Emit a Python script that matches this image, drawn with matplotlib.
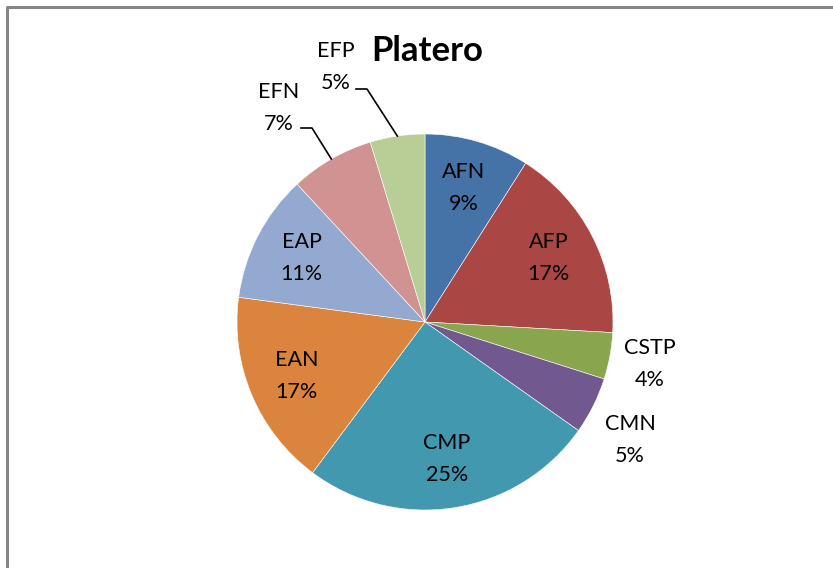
import numpy as np
import matplotlib.pyplot as plt

plt.rcParams['font.family'] = ['Lato', 'DejaVu Sans']

# slice shares, clockwise from 12 o'clock
cats = ['AFN', 'AFP', 'CSTP', 'CMN', 'CMP', 'EAN', 'EAP', 'EFN', 'EFP']
vals = [9.0, 16.9, 4.0, 4.9, 25.4, 16.9, 11.0, 7.2, 4.7]
cols = ['#4572A7', '#AA4643', '#89A54E', '#71588F', '#4198AF',
        '#DB843D', '#93A9CF', '#D19392', '#B9CD96']

W, H = 833, 568
fig = plt.figure(figsize=(W / 100, H / 100), dpi=100)
ax = fig.add_axes([0, 0, 1, 1])
ax.set_aspect('equal')

cx, cy, R = 425, 246, 188
wedges, _ = ax.pie(vals, colors=cols, startangle=90, counterclock=False,
                   center=(cx, cy), radius=R, frame=True,
                   wedgeprops=dict(edgecolor='white', linewidth=0.4))
ax.set_xlim(0, W)
ax.set_ylim(0, H)
ax.axis('off')

# chart border (grey, cut off at right/bottom like the source)
ax.plot([7.5, 7.5, W + 5], [-5, H - 6.5, H - 6.5], color='#868686', lw=2.2,
        clip_on=False)

ax.text(427, H - 51, 'Platero', ha='center', va='center', fontsize=25,
        fontweight='bold')

tot = sum(vals)
pct = [f'{round(v / tot * 100)}%' for v in vals]

# outside labels: positions in pixels from the picture
outside = {'CSTP': (650, 364), 'CMN': (630, 440),
           'EFN': (279, 108), 'EFP': (336, 67)}
# leader line elbows for the top labels
leaders = {'EFN': (301, 312, 128), 'EFP': (356, 367, 89)}

cum = 0
for c, v, p in zip(cats, vals, pct):
    mid = 90 - (cum + v / 2) / tot * 360
    cum += v
    a = np.radians(mid)
    if c in outside:
        x, y = outside[c]
        y = H - y
    else:
        d = 0.74 * R
        x, y = cx + d * np.cos(a), cy + d * np.sin(a)
    ax.text(x, y, f'{c}\n{p}', ha='center', va='center', fontsize=15.5,
            linespacing=1.75)
    if c in leaders:
        x0, x1, ly = leaders[c]
        ex, ey = cx + R * np.cos(a), cy + R * np.sin(a)
        ax.plot([x0, x1, ex], [H - ly, H - ly, ey], color='black', lw=1.2)

fig.savefig('out.png', dpi=100)
